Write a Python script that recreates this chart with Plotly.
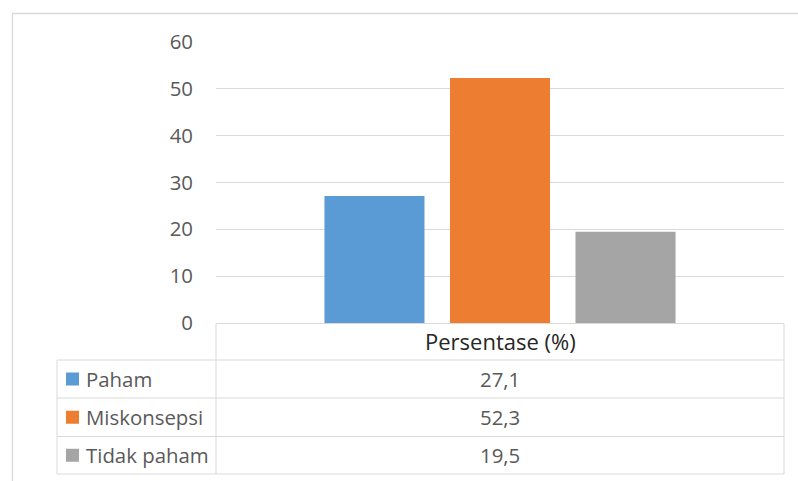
import plotly.graph_objects as go

category = ["Persentase (%)"]
series_names = ["Paham", "Miskonsepsi", "Tidak paham"]
series_values = [27.1, 52.3, 19.5]
series_colors = ["#5B9BD5", "#ED7D31", "#A5A5A5"]
y_ticks = [0, 10, 20, 30, 40, 50, 60]

W, H = 798, 481
L, R, T, B = 216, 14, 42, 158
PW, PH = W - L - R, H - T - B

def px_x(px):
    return (px - L) / PW

def px_y(py):
    return (H - B - py) / PH

TXT = "#595959"
GRID = "#D9D9D9"
FONT = "Open Sans"

fig = go.Figure()
for name, val, col in zip(series_names, series_values, series_colors):
    fig.add_trace(go.Bar(x=category, y=[val], name=name, marker=dict(color=col, line=dict(width=0)),
                         showlegend=False, hoverinfo="name+y"))

shapes = []
line = dict(color=GRID, width=1)
# outer chart border (only top & left visible)
shapes.append(dict(type="rect", xref="paper", yref="paper", x0=px_x(12.5), x1=px_x(810),
                   y0=px_y(495), y1=px_y(13.5), line=dict(color=GRID, width=1.3), layer="below"))
# data table grid
row_lines = [360, 398, 436.5, 474]
shapes.append(dict(type="line", xref="paper", yref="paper", x0=0, x1=1, y0=px_y(323.5), y1=px_y(323.5), line=line))
for ry in row_lines:
    shapes.append(dict(type="line", xref="paper", yref="paper", x0=px_x(57), x1=1, y0=px_y(ry), y1=px_y(ry), line=line))
shapes.append(dict(type="line", xref="paper", yref="paper", x0=px_x(57), x1=px_x(57), y0=px_y(360), y1=px_y(474), line=line))
shapes.append(dict(type="line", xref="paper", yref="paper", x0=0, x1=0, y0=px_y(323.5), y1=px_y(474), line=line))
shapes.append(dict(type="line", xref="paper", yref="paper", x0=1, x1=1, y0=px_y(323.5), y1=px_y(474), line=line))

annotations = [dict(text=category[0], xref="paper", yref="paper", x=0.5, y=px_y(341),
                    xanchor="center", yanchor="middle", showarrow=False,
                    font=dict(family=FONT, size=22, color="#262626"))]
for i, (name, val, col) in enumerate(zip(series_names, series_values, series_colors)):
    top, bot = row_lines[i], row_lines[i + 1]
    cy = (top + bot) / 2
    shapes.append(dict(type="rect", xref="paper", yref="paper", x0=px_x(66), x1=px_x(79),
                       y0=px_y(cy + 6.5), y1=px_y(cy - 6.5), fillcolor=col, line=dict(width=0)))
    annotations.append(dict(text=name, xref="paper", yref="paper", x=px_x(84), y=px_y(cy),
                            xanchor="left", yanchor="middle", showarrow=False,
                            font=dict(family=FONT, size=20.4, color=TXT)))
    annotations.append(dict(text=f"{val:.1f}".replace(".", ","), xref="paper", yref="paper", x=0.5, y=px_y(cy),
                            xanchor="center", yanchor="middle", showarrow=False,
                            font=dict(family=FONT, size=20.4, color=TXT)))

fig.update_layout(
    width=W, height=H,
    margin=dict(l=L, r=R, t=T, b=B, pad=0),
    paper_bgcolor="white", plot_bgcolor="white",
    barmode="group", bargap=0.337, bargroupgap=0.203,
    xaxis=dict(showticklabels=False, showgrid=False, zeroline=False, showline=False, ticks=""),
    yaxis=dict(range=[0, 60], tickvals=y_ticks, showgrid=True, gridcolor=GRID, gridwidth=1,
               zeroline=False, showline=False, ticks="", ticklabelstandoff=22,
               tickfont=dict(family=FONT, size=20.4, color=TXT)),
    shapes=shapes, annotations=annotations,
    showlegend=False,
)

fig.write_html("out.html")
